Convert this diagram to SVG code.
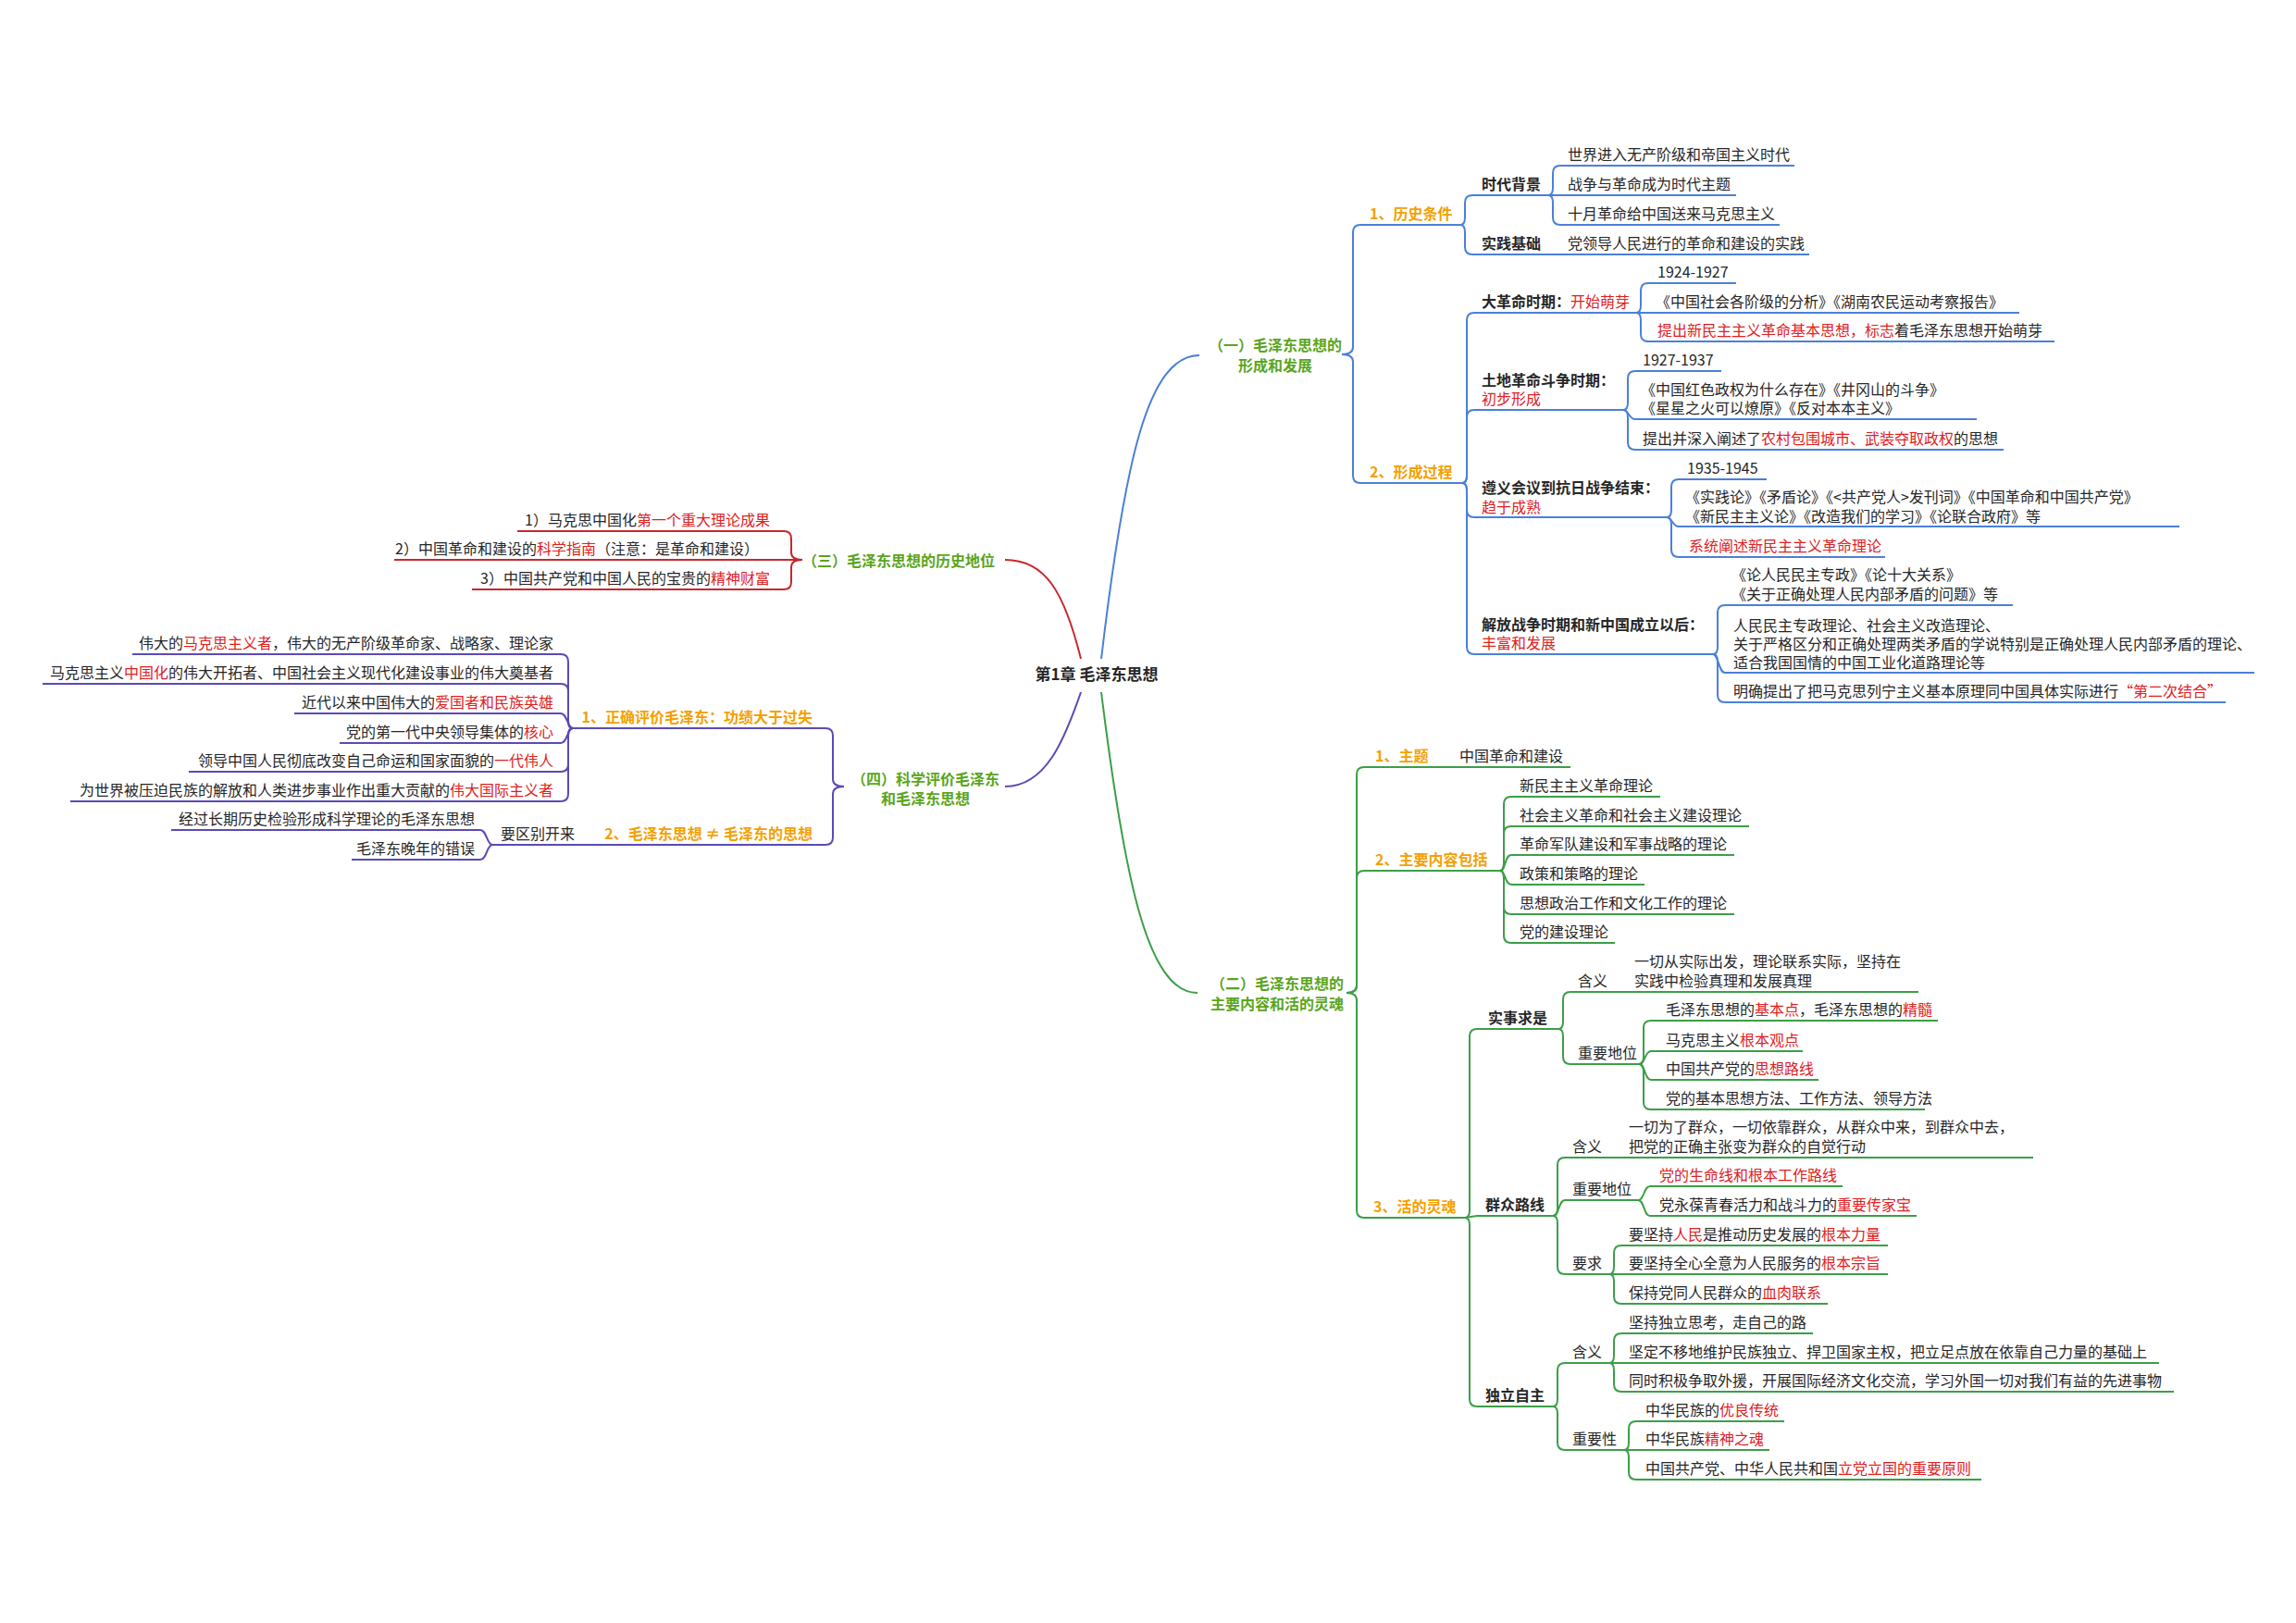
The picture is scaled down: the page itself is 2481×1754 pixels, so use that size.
<svg xmlns="http://www.w3.org/2000/svg" width="2481" height="1754" viewBox="0 0 2481 1754">
<style>
text{font-family:"Noto Sans CJK SC","Noto Sans",sans-serif;font-size:16px;fill:#262626}
.b{font-weight:bold}
.o{fill:#f5a000;font-weight:bold}
.g{fill:#5aa51c;font-weight:bold}
.c{font-weight:bold;font-size:17px}
.r{fill:#e0201e}
.e{text-anchor:end}
.m{text-anchor:middle}
path,line{fill:none;stroke-width:2}
.lb{stroke:#4a80d8}.lg{stroke:#3c9e48}.lr{stroke:#c8282c}.lp{stroke:#5a4ab5}
</style>
<rect width="2481" height="1754" fill="#fff"/>
<g id="connectors">
<path class="lb" d="M1190 712 C1215 500 1240 384 1296 384"/>
<path class="lg" d="M1190 748 C1215 950 1240 1073 1294 1073"/>
<path class="lr" d="M1168 712 C1150 640 1130 605 1086 605"/>
<path class="lp" d="M1168 748 C1150 800 1130 850 1086 850"/>
<g class="lb">
<path d="M1450 383 Q1462 383 1462 375 L1462 251 Q1462 243 1470 243"/>
<path d="M1450 383 Q1462 383 1462 391 L1462 514 Q1462 522 1470 522"/>
<path d="M1578 243 Q1583 243 1583 235 L1583 219 Q1583 211 1591 211"/>
<path d="M1578 243 Q1583 243 1583 251 L1583 267 Q1583 275 1591 275"/>
<path d="M1673 211 Q1678 211 1678 203 L1678 187 Q1678 179 1686 179"/>
<path d="M1673 211 L1686 211"/>
<path d="M1673 211 Q1678 211 1678 219 L1678 235 Q1678 243 1686 243"/>
<path d="M1580 522 Q1585 522 1585 514 L1585 346 Q1585 338 1593 338"/>
<path d="M1580 522 Q1585 522 1585 514 L1585 451 Q1585 443 1593 443"/>
<path d="M1580 522 Q1585 522 1585 530 L1585 551 Q1585 559 1593 559"/>
<path d="M1580 522 Q1585 522 1585 530 L1585 699 Q1585 707 1593 707"/>
<path d="M1768 338 Q1773 338 1773 330 L1773 314 Q1773 306 1781 306"/>
<path d="M1768 338 L1781 338"/>
<path d="M1768 338 Q1773 338 1773 346 L1773 361 Q1773 369 1781 369"/>
<path d="M1754 443 Q1759 443 1759 435 L1759 409 Q1759 401 1767 401"/>
<path d="M1754 443 C1760 443 1760 453 1767 453"/>
<path d="M1754 443 Q1759 443 1759 451 L1759 478 Q1759 486 1767 486"/>
<path d="M1801 559 Q1806 559 1806 551 L1806 526 Q1806 518 1814 518"/>
<path d="M1801 559 C1807 559 1807 569 1814 569"/>
<path d="M1801 559 Q1806 559 1806 567 L1806 594 Q1806 602 1814 602"/>
<path d="M1851 707 Q1856 707 1856 699 L1856 662 Q1856 654 1864 654"/>
<path d="M1851 707 C1857 707 1857 727 1864 727"/>
<path d="M1851 707 Q1856 707 1856 715 L1856 751 Q1856 759 1864 759"/>
</g>
<g class="lg">
<path d="M1455 1073 Q1466 1073 1466 1065 L1466 837 Q1466 829 1474 829"/>
<path d="M1455 1073 Q1466 1073 1466 1065 L1466 949 Q1466 941 1474 941"/>
<path d="M1455 1073 Q1466 1073 1466 1081 L1466 1308 Q1466 1316 1474 1316"/>
<path d="M1621 941 Q1625 941 1625 933 L1625 869 Q1625 861 1633 861"/>
<path d="M1621 941 Q1625 941 1625 933 L1625 901 Q1625 893 1633 893"/>
<path d="M1621 941 C1627 941 1626 924 1633 924"/>
<path d="M1621 941 C1627 941 1626 956 1633 956"/>
<path d="M1621 941 Q1625 941 1625 949 L1625 980 Q1625 988 1633 988"/>
<path d="M1621 941 Q1625 941 1625 949 L1625 1011 Q1625 1019 1633 1019"/>
<path d="M1583 1316 Q1588 1316 1588 1308 L1588 1120 Q1588 1112 1596 1112"/>
<path d="M1583 1316 L1596 1314"/>
<path d="M1583 1316 Q1588 1316 1588 1324 L1588 1512 Q1588 1520 1596 1520"/>
<path d="M1684 1112 Q1689 1112 1689 1104 L1689 1080 Q1689 1072 1697 1072"/>
<path d="M1684 1112 Q1689 1112 1689 1120 L1689 1142 Q1689 1150 1697 1150"/>
<path d="M1771 1150 Q1776 1150 1776 1142 L1776 1111 Q1776 1103 1784 1103"/>
<path d="M1771 1150 C1778 1150 1777 1136 1784 1136"/>
<path d="M1771 1150 C1778 1150 1777 1167 1784 1167"/>
<path d="M1771 1150 Q1776 1150 1776 1158 L1776 1191 Q1776 1199 1784 1199"/>
<path d="M1678 1314 Q1683 1314 1683 1306 L1683 1259 Q1683 1251 1691 1251"/>
<path d="M1678 1314 C1685 1314 1684 1297 1691 1297"/>
<path d="M1678 1314 Q1683 1314 1683 1322 L1683 1369 Q1683 1377 1691 1377"/>
<path d="M1770 1297 C1777 1297 1776 1282 1783 1282"/>
<path d="M1770 1297 C1777 1297 1776 1314 1783 1314"/>
<path d="M1739 1377 Q1744 1377 1744 1369 L1744 1354 Q1744 1346 1752 1346"/>
<path d="M1739 1377 L1752 1377"/>
<path d="M1739 1377 Q1744 1377 1744 1385 L1744 1401 Q1744 1409 1752 1409"/>
<path d="M1678 1520 Q1683 1520 1683 1512 L1683 1481 Q1683 1473 1691 1473"/>
<path d="M1678 1520 Q1683 1520 1683 1528 L1683 1559 Q1683 1567 1691 1567"/>
<path d="M1739 1473 Q1744 1473 1744 1465 L1744 1449 Q1744 1441 1752 1441"/>
<path d="M1739 1473 L1752 1473"/>
<path d="M1739 1473 Q1744 1473 1744 1481 L1744 1496 Q1744 1504 1752 1504"/>
<path d="M1755 1567 Q1760 1567 1760 1559 L1760 1544 Q1760 1536 1768 1536"/>
<path d="M1755 1567 L1768 1567"/>
<path d="M1755 1567 Q1760 1567 1760 1575 L1760 1591 Q1760 1599 1768 1599"/>
</g>
<g class="lr">
<path d="M867 605 Q855 605 855 597 L855 582 Q855 574 847 574"/>
<path d="M867 605 L847 605"/>
<path d="M867 605 Q855 605 855 613 L855 629 Q855 637 847 637"/>
</g>
<g class="lp">
<path d="M912 850 Q900 850 900 842 L900 795 Q900 787 892 787"/>
<path d="M912 850 Q900 850 900 858 L900 905 Q900 913 892 913"/>
<path d="M619 787 Q614 787 614 779 L614 715 Q614 707 606 707"/>
<path d="M619 787 Q614 787 614 779 L614 747 Q614 739 606 739"/>
<path d="M619 787 C613 787 613 771 606 771"/>
<path d="M619 787 C613 787 613 803 606 803"/>
<path d="M619 787 Q614 787 614 795 L614 826 Q614 834 606 834"/>
<path d="M619 787 Q614 787 614 795 L614 858 Q614 866 606 866"/>
<path d="M532 913 C526 913 526 897 519 897"/>
<path d="M532 913 C526 913 526 929 519 929"/>
</g>
</g>

<g id="center"><text class="c m" x="1185" y="735">第1章 毛泽东思想</text></g>

<g id="n1">
<text class="g m" x="1378" y="379">（一）毛泽东思想的</text><text class="g m" x="1378" y="401">形成和发展</text>
</g>
<g id="n1-1"><line class="lb" x1="1470" y1="243" x2="1578" y2="243"/><text class="o" x="1480" y="237">1、历史条件</text></g>
<g id="n1-1a"><line class="lb" x1="1591" y1="211" x2="1673" y2="211"/><text class="b" x="1601" y="205">时代背景</text></g>
<g id="n1-1a1"><line class="lb" x1="1686" y1="179" x2="1939" y2="179"/><text x="1694" y="173">世界进入无产阶级和帝国主义时代</text></g>
<g id="n1-1a2"><line class="lb" x1="1686" y1="211" x2="1876" y2="211"/><text x="1694" y="205">战争与革命成为时代主题</text></g>
<g id="n1-1a3"><line class="lb" x1="1686" y1="243" x2="1923" y2="243"/><text x="1694" y="237">十月革命给中国送来马克思主义</text></g>
<g id="n1-1b"><line class="lb" x1="1591" y1="275" x2="1955" y2="275"/><text class="b" x="1601" y="269">实践基础</text><text x="1694" y="269">党领导人民进行的革命和建设的实践</text></g>

<g id="n1-2"><line class="lb" x1="1470" y1="522" x2="1580" y2="522"/><text class="o" x="1480" y="516">2、形成过程</text></g>
<g id="n1-2a"><line class="lb" x1="1593" y1="338" x2="1768" y2="338"/><text x="1601" y="332"><tspan class="b">大革命时期：</tspan><tspan class="r">开始萌芽</tspan></text></g>
<g id="n1-2a1"><line class="lb" x1="1781" y1="306" x2="1876" y2="306"/><text x="1791" y="300">1924-1927</text></g>
<g id="n1-2a2"><line class="lb" x1="1781" y1="338" x2="2182" y2="338"/><text x="1789" y="332">《中国社会各阶级的分析》《湖南农民运动考察报告》</text></g>
<g id="n1-2a3"><line class="lb" x1="1781" y1="369" x2="2220" y2="369"/><text x="1791" y="363"><tspan class="r">提出新民主主义革命基本思想，标志</tspan>着毛泽东思想开始萌芽</text></g>
<g id="n1-2b"><line class="lb" x1="1593" y1="443" x2="1754" y2="443"/><text class="b" x="1601" y="417">土地革命斗争时期：</text><text class="r" x="1601" y="437">初步形成</text></g>
<g id="n1-2b1"><line class="lb" x1="1767" y1="401" x2="1860" y2="401"/><text x="1775" y="395">1927-1937</text></g>
<g id="n1-2b2"><line class="lb" x1="1767" y1="453" x2="2136" y2="453"/><text x="1773" y="427">《中国红色政权为什么存在》《井冈山的斗争》</text><text x="1773" y="447">《星星之火可以燎原》《反对本本主义》</text></g>
<g id="n1-2b3"><line class="lb" x1="1767" y1="486" x2="2165" y2="486"/><text x="1775" y="480">提出并深入阐述了<tspan class="r">农村包围城市、武装夺取政权</tspan>的思想</text></g>
<g id="n1-2c"><line class="lb" x1="1593" y1="559" x2="1801" y2="559"/><text class="b" x="1601" y="533">遵义会议到抗日战争结束：</text><text class="r" x="1601" y="554">趋于成熟</text></g>
<g id="n1-2c1"><line class="lb" x1="1814" y1="518" x2="1909" y2="518"/><text x="1823" y="512">1935-1945</text></g>
<g id="n1-2c2"><line class="lb" x1="1814" y1="569" x2="2355" y2="569"/><text x="1821" y="543">《实践论》《矛盾论》《&lt;共产党人&gt;发刊词》《中国革命和中国共产党》</text><text x="1821" y="564">《新民主主义论》《改造我们的学习》《论联合政府》等</text></g>
<g id="n1-2c3"><line class="lb" x1="1814" y1="602" x2="2037" y2="602"/><text class="r" x="1825" y="596">系统阐述新民主主义革命理论</text></g>
<g id="n1-2d"><line class="lb" x1="1593" y1="707" x2="1851" y2="707"/><text class="b" x="1601" y="681">解放战争时期和新中国成立以后：</text><text class="r" x="1601" y="701">丰富和发展</text></g>
<g id="n1-2d1"><line class="lb" x1="1864" y1="654" x2="2175" y2="654"/><text x="1871" y="627">《论人民民主专政》《论十大关系》</text><text x="1871" y="648">《关于正确处理人民内部矛盾的问题》等</text></g>
<g id="n1-2d2"><line class="lb" x1="1864" y1="727" x2="2436" y2="727"/><text x="1873" y="682">人民民主专政理论、社会主义改造理论、</text><text x="1873" y="702">关于严格区分和正确处理两类矛盾的学说特别是正确处理人民内部矛盾的理论、</text><text x="1873" y="722">适合我国国情的中国工业化道路理论等</text></g>
<g id="n1-2d3"><line class="lb" x1="1864" y1="759" x2="2405" y2="759"/><text x="1873" y="753">明确提出了把马克思列宁主义基本原理同中国具体实际进行<tspan class="r">“第二次结合”</tspan></text></g>

<g id="n2"><text class="g m" x="1380" y="1069">（二）毛泽东思想的</text><text class="g m" x="1380" y="1091">主要内容和活的灵魂</text></g>
<g id="n2-1"><line class="lg" x1="1474" y1="829" x2="1697" y2="829"/><text class="o" x="1486" y="823">1、主题</text><text x="1577" y="823">中国革命和建设</text></g>
<g id="n2-2"><line class="lg" x1="1474" y1="941" x2="1621" y2="941"/><text class="o" x="1486" y="935">2、主要内容包括</text></g>
<g id="n2-2a"><line class="lg" x1="1633" y1="861" x2="1794" y2="861"/><text x="1642" y="855">新民主主义革命理论</text></g>
<g id="n2-2b"><line class="lg" x1="1633" y1="893" x2="1890" y2="893"/><text x="1642" y="887">社会主义革命和社会主义建设理论</text></g>
<g id="n2-2c"><line class="lg" x1="1633" y1="924" x2="1874" y2="924"/><text x="1642" y="918">革命军队建设和军事战略的理论</text></g>
<g id="n2-2d"><line class="lg" x1="1633" y1="956" x2="1777" y2="956"/><text x="1642" y="950">政策和策略的理论</text></g>
<g id="n2-2e"><line class="lg" x1="1633" y1="988" x2="1874" y2="988"/><text x="1642" y="982">思想政治工作和文化工作的理论</text></g>
<g id="n2-2f"><line class="lg" x1="1633" y1="1019" x2="1745" y2="1019"/><text x="1642" y="1013">党的建设理论</text></g>
<g id="n2-3"><line class="lg" x1="1474" y1="1316" x2="1583" y2="1316"/><text class="o" x="1484" y="1310">3、活的灵魂</text></g>
<g id="n2-3a"><line class="lg" x1="1596" y1="1112" x2="1684" y2="1112"/><text class="b" x="1608" y="1106">实事求是</text></g>
<g id="n2-3a1"><line class="lg" x1="1697" y1="1072" x2="2073" y2="1072"/><text x="1705" y="1066">含义</text><text x="1766" y="1045">一切从实际出发，理论联系实际，坚持在</text><text x="1766" y="1066">实践中检验真理和发展真理</text></g>
<g id="n2-3a2"><line class="lg" x1="1697" y1="1150" x2="1771" y2="1150"/><text x="1705" y="1144">重要地位</text></g>
<g id="n2-3a2a"><line class="lg" x1="1784" y1="1103" x2="2094" y2="1103"/><text x="1800" y="1097">毛泽东思想的<tspan class="r">基本点</tspan>，毛泽东思想的<tspan class="r">精髓</tspan></text></g>
<g id="n2-3a2b"><line class="lg" x1="1784" y1="1136" x2="1948" y2="1136"/><text x="1800" y="1130">马克思主义<tspan class="r">根本观点</tspan></text></g>
<g id="n2-3a2c"><line class="lg" x1="1784" y1="1167" x2="1965" y2="1167"/><text x="1800" y="1161">中国共产党的<tspan class="r">思想路线</tspan></text></g>
<g id="n2-3a2d"><line class="lg" x1="1784" y1="1199" x2="2080" y2="1199"/><text x="1800" y="1193">党的基本思想方法、工作方法、领导方法</text></g>
<g id="n2-3b"><line class="lg" x1="1596" y1="1314" x2="1678" y2="1314"/><text class="b" x="1605" y="1308">群众路线</text></g>
<g id="n2-3b1"><line class="lg" x1="1691" y1="1251" x2="2197" y2="1251"/><text x="1699" y="1245">含义</text><text x="1760" y="1224">一切为了群众，一切依靠群众，从群众中来，到群众中去，</text><text x="1760" y="1245">把党的正确主张变为群众的自觉行动</text></g>
<g id="n2-3b2"><line class="lg" x1="1691" y1="1297" x2="1770" y2="1297"/><text x="1699" y="1291">重要地位</text></g>
<g id="n2-3b2a"><line class="lg" x1="1783" y1="1282" x2="1991" y2="1282"/><text class="r" x="1793" y="1276">党的生命线和根本工作路线</text></g>
<g id="n2-3b2b"><line class="lg" x1="1783" y1="1314" x2="2071" y2="1314"/><text x="1793" y="1308">党永葆青春活力和战斗力的<tspan class="r">重要传家宝</tspan></text></g>
<g id="n2-3b3"><line class="lg" x1="1691" y1="1377" x2="1739" y2="1377"/><text x="1699" y="1371">要求</text></g>
<g id="n2-3b3a"><line class="lg" x1="1752" y1="1346" x2="2040" y2="1346"/><text x="1760" y="1340">要坚持<tspan class="r">人民</tspan>是推动历史发展的<tspan class="r">根本力量</tspan></text></g>
<g id="n2-3b3b"><line class="lg" x1="1752" y1="1377" x2="2040" y2="1377"/><text x="1760" y="1371">要坚持全心全意为人民服务的<tspan class="r">根本宗旨</tspan></text></g>
<g id="n2-3b3c"><line class="lg" x1="1752" y1="1409" x2="1975" y2="1409"/><text x="1760" y="1403">保持党同人民群众的<tspan class="r">血肉联系</tspan></text></g>
<g id="n2-3c"><line class="lg" x1="1596" y1="1520" x2="1678" y2="1520"/><text class="b" x="1605" y="1514">独立自主</text></g>
<g id="n2-3c1"><line class="lg" x1="1691" y1="1473" x2="1739" y2="1473"/><text x="1699" y="1467">含义</text></g>
<g id="n2-3c1a"><line class="lg" x1="1752" y1="1441" x2="1959" y2="1441"/><text x="1760" y="1435">坚持独立思考，走自己的路</text></g>
<g id="n2-3c1b"><line class="lg" x1="1752" y1="1473" x2="2333" y2="1473"/><text x="1760" y="1467">坚定不移地维护民族独立、捍卫国家主权，把立足点放在依靠自己力量的基础上</text></g>
<g id="n2-3c1c"><line class="lg" x1="1752" y1="1504" x2="2349" y2="1504"/><text x="1760" y="1498">同时积极争取外援，开展国际经济文化交流，学习外国一切对我们有益的先进事物</text></g>
<g id="n2-3c2"><line class="lg" x1="1691" y1="1567" x2="1755" y2="1567"/><text x="1699" y="1561">重要性</text></g>
<g id="n2-3c2a"><line class="lg" x1="1768" y1="1536" x2="1928" y2="1536"/><text x="1778" y="1530">中华民族的<tspan class="r">优良传统</tspan></text></g>
<g id="n2-3c2b"><line class="lg" x1="1768" y1="1567" x2="1912" y2="1567"/><text x="1778" y="1561">中华民族<tspan class="r">精神之魂</tspan></text></g>
<g id="n2-3c2c"><line class="lg" x1="1768" y1="1599" x2="2141" y2="1599"/><text x="1778" y="1593">中国共产党、中华人民共和国<tspan class="r">立党立国的重要原则</tspan></text></g>

<g id="n3"><text class="g e" x="1075" y="612">（三）毛泽东思想的历史地位</text></g>
<g id="n3-1"><line class="lr" x1="559" y1="574" x2="847" y2="574"/><text class="e" x="832" y="568">1）马克思中国化<tspan class="r">第一个重大理论成果</tspan></text></g>
<g id="n3-2"><line class="lr" x1="426" y1="605" x2="847" y2="605"/><text class="e" x="820" y="599">2）中国革命和建设的<tspan class="r">科学指南</tspan>（注意：是革命和建设）</text></g>
<g id="n3-3"><line class="lr" x1="510" y1="637" x2="847" y2="637"/><text class="e" x="832" y="631">3）中国共产党和中国人民的宝贵的<tspan class="r">精神财富</tspan></text></g>

<g id="n4"><text class="g m" x="1000" y="848">（四）科学评价毛泽东</text><text class="g m" x="1000" y="869">和毛泽东思想</text></g>
<g id="n4-1"><line class="lp" x1="619" y1="787" x2="892" y2="787"/><text class="o e" x="878" y="781">1、正确评价毛泽东：功绩大于过失</text></g>
<g id="n4-1a"><line class="lp" x1="143" y1="707" x2="606" y2="707"/><text class="e" x="598" y="701">伟大的<tspan class="r">马克思主义者</tspan>，伟大的无产阶级革命家、战略家、理论家</text></g>
<g id="n4-1b"><line class="lp" x1="46" y1="739" x2="606" y2="739"/><text class="e" x="598" y="733">马克思主义<tspan class="r">中国化</tspan>的伟大开拓者、中国社会主义现代化建设事业的伟大奠基者</text></g>
<g id="n4-1c"><line class="lp" x1="318" y1="771" x2="606" y2="771"/><text class="e" x="598" y="765">近代以来中国伟大的<tspan class="r">爱国者和民族英雄</tspan></text></g>
<g id="n4-1d"><line class="lp" x1="367" y1="803" x2="606" y2="803"/><text class="e" x="598" y="797">党的第一代中央领导集体的<tspan class="r">核心</tspan></text></g>
<g id="n4-1e"><line class="lp" x1="204" y1="834" x2="606" y2="834"/><text class="e" x="598" y="828">领导中国人民彻底改变自己命运和国家面貌的<tspan class="r">一代伟人</tspan></text></g>
<g id="n4-1f"><line class="lp" x1="76" y1="866" x2="606" y2="866"/><text class="e" x="598" y="860">为世界被压迫民族的解放和人类进步事业作出重大贡献的<tspan class="r">伟大国际主义者</tspan></text></g>
<g id="n4-2"><line class="lp" x1="632" y1="913" x2="892" y2="913"/><text class="o e" x="878" y="907">2、毛泽东思想 ≠ 毛泽东的思想</text></g>
<g id="n4-2a"><line class="lp" x1="532" y1="913" x2="632" y2="913"/><text x="541" y="907">要区别开来</text></g>
<g id="n4-2a1"><line class="lp" x1="185" y1="897" x2="519" y2="897"/><text class="e" x="513" y="891">经过长期历史检验形成科学理论的毛泽东思想</text></g>
<g id="n4-2a2"><line class="lp" x1="380" y1="929" x2="519" y2="929"/><text class="e" x="513" y="923">毛泽东晚年的错误</text></g>
</svg>
